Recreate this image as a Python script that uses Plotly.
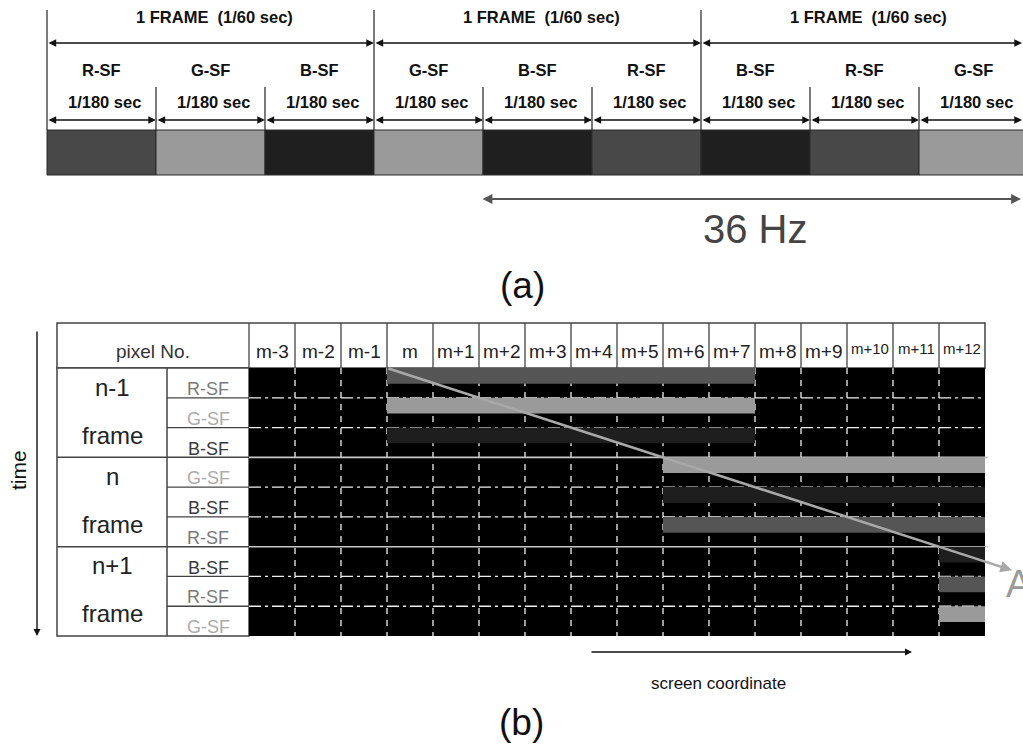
import plotly.graph_objects as go

# ---------------- data ----------------
# (a) sub-frame sequence
frame_titles = ["1 FRAME  (1/60 sec)", "1 FRAME  (1/60 sec)", "1 FRAME  (1/60 sec)"]
subframe_sequence = ["R", "G", "B", "G", "B", "R", "B", "R", "G"]
subframe_duration = "1/180 sec"
flicker_label = "36 Hz"
flicker_span = [4, 9]          # sub-frame index range covered by the 36 Hz arrow
bar_colors_a = {"R": "#484848", "G": "#9a9a9a", "B": "#1f1f1f"}

# (b) pixel / sub-frame table
pixel_labels = ["m-3", "m-2", "m-1", "m", "m+1", "m+2", "m+3", "m+4", "m+5",
                "m+6", "m+7", "m+8", "m+9", "m+10", "m+11", "m+12"]
frame_names = ["n-1", "n", "n+1"]
frame_sf_order = [["R", "G", "B"], ["G", "B", "R"], ["B", "R", "G"]]
lit_start_pixel = [3, 9, 15]   # first lit pixel index per frame
lit_end_pixel = [11, 16, 16]   # end (exclusive) lit pixel index per frame
sf_label_colors = {"R": "#7a7a7a", "G": "#ababab", "B": "#3a3a3a"}
bar_colors_b = {"R": "#555555", "G": "#9a9a9a", "B": "#1e1e1e"}
motion_label = "A"

# ---------------- layout constants ----------------
W, H = 1023, 753
A_X0, SF_W = 47, 109
A_BAR_TOP, A_BAR_BOT = 130, 175

T_X0, T_SPLIT, P_X0, P_W = 57, 167, 249, 46
HDR_TOP, DATA_TOP, ROW_H = 323, 368, 29.78
P_X1 = P_X0 + P_W * len(pixel_labels)
DATA_BOT = DATA_TOP + ROW_H * 9

shapes, annots = [], []
SANS = "Liberation Sans, Arial, sans-serif"


def line(x0, y0, x1, y1, color="#000", width=1.0, dash=None):
    d = dict(color=color, width=width)
    if dash:
        d["dash"] = dash
    shapes.append(dict(type="line", xref="x", yref="y", x0=x0, y0=y0, x1=x1, y1=y1, line=d))


def rect(x0, y0, x1, y1, fill, lc=None, lw=0):
    shapes.append(dict(type="rect", xref="x", yref="y", x0=x0, y0=y0, x1=x1, y1=y1,
                       fillcolor=fill, line=dict(color=lc or fill, width=lw)))


def arrow(x0, y0, x1, y1, color="#000", width=1.2, both=False, size=1.0, head=2):
    annots.append(dict(x=x1, y=y1, ax=x0, ay=y0, xref="x", yref="y", axref="x", ayref="y",
                       text="", showarrow=True, arrowhead=head, startarrowhead=head,
                       arrowsize=size, startarrowsize=size, arrowwidth=width,
                       arrowcolor=color, arrowside="end+start" if both else "end",
                       standoff=0, startstandoff=0))


def text(x, y, s, size, color="#000", family=SANS, bold=False, angle=0, xanchor="center"):
    if bold:
        s = "<b>" + s + "</b>"
    annots.append(dict(x=x, y=y, xref="x", yref="y", text=s, showarrow=False,
                       xanchor=xanchor, yanchor="middle", textangle=angle,
                       font=dict(size=size, color=color, family=family)))


# ================= (a) =================
n_frames = len(frame_titles)
for f in range(n_frames):
    fx0 = A_X0 + SF_W * 3 * f
    fx1 = min(fx0 + SF_W * 3, W - 1)
    line(fx0, 10, fx0, A_BAR_TOP, "#222", 1.2)
    arrow(fx0, 43, fx1, 43, "#111", 1.4, both=True, size=1.1)
    text((fx0 + fx0 + SF_W * 3) / 2 + 4, 17, frame_titles[f], 16.5, "#111", bold=True)

for k, sf in enumerate(subframe_sequence):
    sx0 = A_X0 + SF_W * k
    sx1 = min(sx0 + SF_W, W - 1)
    if k % 3 != 0:
        line(sx0, 87, sx0, A_BAR_TOP, "#222", 1.2)
    arrow(sx0, 120, sx1, 120, "#111", 1.4, both=True, size=1.1)
    text(sx0 + SF_W / 2, 70, sf + "-SF", 16.5, "#111", bold=True)
    text(sx0 + SF_W / 2 + 3, 102, subframe_duration, 16.5, "#111", bold=True)
    rect(sx0, A_BAR_TOP, sx0 + SF_W, A_BAR_BOT, bar_colors_a[sf], "#2a2a2a", 1)

arrow(A_X0 + SF_W * flicker_span[0] - 2, 199, W - 2, 199,
      "#555", 2.2, both=True, size=0.9)
text(755, 229, flicker_label, 40, "#444", SANS)
text(522, 285, "(a)", 37, "#111", SANS)

# ================= (b) =================
# header row
rect(T_X0, HDR_TOP, P_X1, DATA_TOP, "white", "#444", 1.5)
text((T_X0 + P_X0) / 2, 351, "pixel No.", 19, "#333")
for i, lab in enumerate(pixel_labels):
    cx = P_X0 + P_W * (i + 0.5)
    line(P_X0 + P_W * i, HDR_TOP, P_X0 + P_W * i, DATA_TOP, "#444", 1.3)
    if len(lab) > 3:
        text(cx, 348, lab, 15, "#222")
    else:
        text(cx, 351, lab, 19, "#222")

# label columns
rect(T_X0, DATA_TOP, P_X0, DATA_BOT, "white", "#444", 1.5)
line(T_SPLIT, DATA_TOP, T_SPLIT, DATA_BOT, "#444", 1.5)

# black pixel area
rect(P_X0, DATA_TOP, P_X1, DATA_BOT, "#000000")

# grid inside black area
for i in range(1, len(pixel_labels)):
    xx = P_X0 + P_W * i
    line(xx, DATA_TOP, xx, DATA_BOT, "#f0f0f0", 1.3, "6px,6px")
for r in range(1, 9):
    yy = DATA_TOP + ROW_H * r
    if r % 3 == 0:
        line(T_X0, yy, P_X0, yy, "#444", 1.5)
        line(P_X0, yy, P_X1 + 3, yy, "#c8c8c8", 1.6)
    else:
        line(T_SPLIT, yy, P_X0, yy, "#444", 1.3)
        line(P_X0, yy, P_X1, yy, "#f0f0f0", 1.3, "12px,4px,3px,4px")

# lit sub-frame bars and labels
for f, fname in enumerate(frame_names):
    ftop = DATA_TOP + ROW_H * 3 * f
    text((T_X0 + T_SPLIT) / 2, ftop + 19, fname, 24, "#222")
    text((T_X0 + T_SPLIT) / 2, ftop + 67, "frame", 24, "#222")
    for j, sf in enumerate(frame_sf_order[f]):
        rtop = ftop + ROW_H * j
        text((T_SPLIT + P_X0) / 2, rtop + 21, sf + "-SF", 18, sf_label_colors[sf])
        rect(P_X0 + P_W * lit_start_pixel[f], rtop,
             P_X0 + P_W * lit_end_pixel[f], rtop + ROW_H * 0.53,
             bar_colors_b[sf])

# motion trajectory arrow (2 pixels per sub-frame)
mx0 = P_X0 + P_W * lit_start_pixel[0]
mx1 = 1012
my1 = DATA_TOP + (mx1 - mx0) / (2 * P_W) * ROW_H
arrow(mx0, DATA_TOP, mx1, my1, "#a8a8a8", 2.6, size=0.9)
text(1004, 584, motion_label, 38, "#9a9a9a", SANS, xanchor="left")

# time axis
arrow(37, 330, 37, 636, "#111", 1.4, size=1.0)
text(18, 470, "time", 21, "#111", SANS, angle=-90)

# screen coordinate axis
arrow(590, 652, 912, 652, "#111", 1.4, size=1.0)
text(718, 683, "screen coordinate", 17, "#111")
text(521, 722, "(b)", 37, "#111")

fig = go.Figure(go.Scatter(x=[0], y=[0], mode="markers", marker=dict(opacity=0),
                           hoverinfo="skip", showlegend=False))
fig.update_layout(
    width=W, height=H, margin=dict(l=0, r=0, t=0, b=0),
    paper_bgcolor="white", plot_bgcolor="white",
    xaxis=dict(range=[0, W], visible=False, fixedrange=True),
    yaxis=dict(range=[H, 0], visible=False, fixedrange=True),
    shapes=shapes, annotations=annots, showlegend=False,
)
fig.write_html("out.html", config={"displayModeBar": False},
               post_script="document.body.style.margin='0px';document.body.style.overflow='hidden';")
